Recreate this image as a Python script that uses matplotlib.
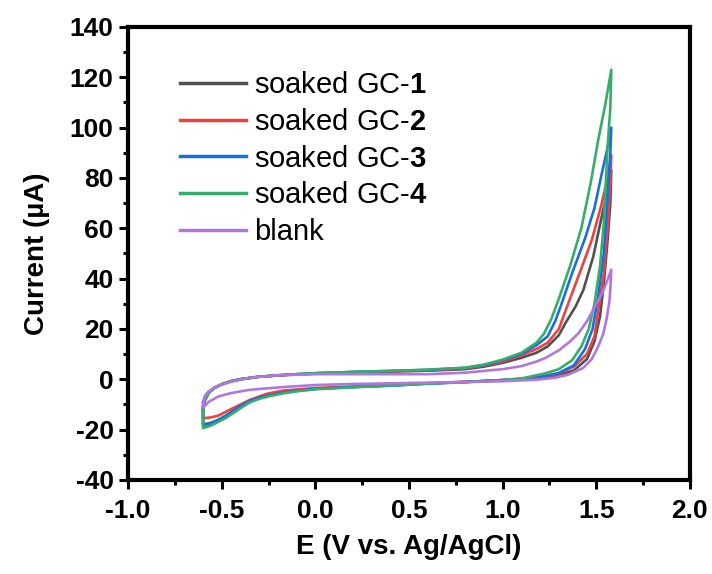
import matplotlib
matplotlib.use("Agg")
import matplotlib.pyplot as plt
import numpy as np
from matplotlib.ticker import MultipleLocator

plt.rcParams['font.family'] = ['Liberation Sans', 'DejaVu Sans']
plt.rcParams['mathtext.fontset'] = 'custom'
plt.rcParams['mathtext.rm'] = 'Liberation Sans'
plt.rcParams['mathtext.bf'] = 'Liberation Sans:bold'
plt.rcParams['axes.unicode_minus'] = False

# CV loops: upper branch from -0.6 V to the vertex, then lower branch back to -0.6 V
gc1_up_E = [-0.60, -0.59, -0.57, -0.54, -0.50, -0.45, -0.40, -0.30, -0.15, 0.00, 0.20, 0.40, 0.60, 0.80, 0.90, 1.00, 1.10, 1.18, 1.24, 1.30, 1.335, 1.39, 1.431, 1.484, 1.53, 1.56, 1.58]
gc1_up_I = [-11.5, -8.0, -5.3, -3.4, -2.0, -0.8, 0.0, 1.0, 1.7, 2.2, 2.6, 3.0, 3.4, 4.0, 5.0, 6.5, 8.5, 10.5, 13.0, 17.5, 22.3, 29.0, 35.5, 48.8, 65.0, 75.0, 83.0]
gc1_dn_E = [1.575, 1.56, 1.54, 1.52, 1.49, 1.45, 1.38, 1.30, 1.20, 1.10, 1.00, 0.80, 0.60, 0.40, 0.20, 0.00, -0.10, -0.17, -0.25, -0.30, -0.35, -0.40, -0.44, -0.48, -0.52, -0.56, -0.60]
gc1_dn_I = [70, 55, 38, 25, 15, 8.0, 3.5, 1.5, 0.5, 0.0, -0.4, -1.1, -1.7, -2.5, -3.1, -3.8, -4.6, -5.3, -6.4, -7.3, -8.6, -10.6, -12.6, -14.6, -16.2, -17.4, -18.0]

gc2_up_E = [-0.60, -0.59, -0.57, -0.54, -0.50, -0.45, -0.40, -0.30, -0.15, 0.00, 0.20, 0.40, 0.60, 0.80, 0.90, 1.00, 1.10, 1.18, 1.24, 1.30, 1.344, 1.42, 1.476, 1.525, 1.56, 1.58]
gc2_up_I = [-10.5, -7.5, -5.2, -3.4, -2.0, -0.8, 0.0, 1.0, 1.8, 2.3, 2.8, 3.2, 3.6, 4.3, 5.4, 7.0, 9.5, 12.0, 14.5, 20.0, 28.9, 44.0, 55.4, 68.6, 80.0, 89.0]
gc2_dn_E = [1.575, 1.56, 1.54, 1.51, 1.49, 1.45, 1.38, 1.30, 1.20, 1.10, 1.00, 0.80, 0.60, 0.40, 0.20, 0.00, -0.17, -0.26, -0.35, -0.44, -0.52, -0.56, -0.60]
gc2_dn_I = [78, 60, 42, 27, 17, 10, 5.0, 2.2, 0.8, 0.1, -0.4, -1.0, -1.6, -2.3, -2.9, -3.5, -4.5, -5.8, -8.2, -11.5, -14.5, -15.2, -15.5]

gc3_up_E = [-0.60, -0.59, -0.57, -0.54, -0.50, -0.45, -0.40, -0.30, -0.15, 0.00, 0.20, 0.40, 0.60, 0.80, 0.90, 1.00, 1.10, 1.18, 1.24, 1.28, 1.31, 1.37, 1.44, 1.49, 1.53, 1.56, 1.58]
gc3_up_I = [-12.0, -8.3, -5.4, -3.5, -2.0, -0.8, 0.0, 1.0, 1.8, 2.4, 2.9, 3.3, 3.7, 4.5, 5.6, 7.5, 10.0, 13.5, 17.0, 23.0, 29.0, 42.0, 56.0, 68.0, 82.0, 92.0, 100.0]
gc3_dn_E = [1.575, 1.56, 1.54, 1.51, 1.48, 1.44, 1.38, 1.30, 1.22, 1.10, 1.00, 0.80, 0.60, 0.40, 0.20, 0.00, -0.10, -0.17, -0.25, -0.30, -0.35, -0.40, -0.44, -0.48, -0.52, -0.56, -0.60]
gc3_dn_I = [90, 72, 50, 33, 20, 12, 5.5, 2.5, 1.2, 0.2, -0.3, -1.1, -1.7, -2.5, -3.1, -3.8, -4.6, -5.3, -6.4, -7.3, -8.6, -10.6, -12.6, -14.6, -16.2, -17.6, -18.5]

gc4_up_E = [-0.60, -0.59, -0.57, -0.54, -0.50, -0.45, -0.40, -0.30, -0.15, 0.00, 0.20, 0.40, 0.60, 0.80, 0.90, 1.00, 1.10, 1.18, 1.22, 1.26, 1.30, 1.36, 1.42, 1.47, 1.51, 1.55, 1.58]
gc4_up_I = [-12.5, -8.5, -5.5, -3.5, -2.0, -0.8, 0.0, 1.0, 1.8, 2.4, 2.9, 3.3, 3.8, 4.6, 5.8, 7.8, 10.5, 14.5, 18.0, 24.0, 32.0, 45.0, 60.0, 78.0, 95.0, 110.0, 123.0]
gc4_dn_E = [1.575, 1.56, 1.54, 1.52, 1.49, 1.46, 1.42, 1.37, 1.30, 1.22, 1.10, 1.00, 0.80, 0.60, 0.40, 0.20, 0.00, -0.10, -0.17, -0.25, -0.30, -0.35, -0.40, -0.44, -0.48, -0.52, -0.56, -0.60]
gc4_dn_I = [108, 92, 62, 45, 30, 20, 13, 7.5, 4.0, 2.2, 0.3, -0.3, -1.2, -1.8, -2.6, -3.2, -4.0, -4.8, -5.6, -6.8, -7.8, -9.2, -11.5, -13.5, -15.5, -17.0, -18.5, -19.4]

blank_up_E = [-0.60, -0.59, -0.57, -0.54, -0.50, -0.45, -0.35, -0.20, 0.00, 0.30, 0.60, 0.80, 1.00, 1.10, 1.18, 1.23, 1.30, 1.36, 1.405, 1.45, 1.493, 1.53, 1.546, 1.58]
blank_up_I = [-9.0, -6.5, -4.8, -3.3, -2.2, -1.0, 0.6, 1.6, 2.0, 2.0, 2.0, 2.6, 4.0, 5.2, 7.0, 8.5, 11.5, 15.0, 18.3, 23.0, 28.9, 34.0, 36.8, 43.5]
blank_dn_E = [1.575, 1.57, 1.555, 1.537, 1.51, 1.476, 1.43, 1.35, 1.28, 1.18, 1.00, 0.80, 0.50, 0.20, 0.00, -0.17, -0.35, -0.45, -0.52, -0.57, -0.60]
blank_dn_I = [36, 31, 24, 18, 13, 8.0, 4.5, 1.8, 0.6, -0.2, -0.8, -1.1, -1.5, -1.9, -2.3, -3.1, -4.2, -5.5, -6.9, -9.0, -11.4]

labels = ["soaked GC-$\\mathbf{1}$", "soaked GC-$\\mathbf{2}$", "soaked GC-$\\mathbf{3}$",
          "soaked GC-$\\mathbf{4}$", "blank"]
colors = ["#515151", "#F14040", "#1A6FDF", "#37AD6B", "#B177DE"]

curves = [
    (gc1_up_E, gc1_up_I, gc1_dn_E, gc1_dn_I),
    (gc2_up_E, gc2_up_I, gc2_dn_E, gc2_dn_I),
    (gc3_up_E, gc3_up_I, gc3_dn_E, gc3_dn_I),
    (gc4_up_E, gc4_up_I, gc4_dn_E, gc4_dn_I),
    (blank_up_E, blank_up_I, blank_dn_E, blank_dn_I),
]

fig = plt.figure(figsize=(7.12, 5.74), dpi=100)
ax = fig.add_axes([0.180, 0.164, 0.789, 0.789])

for (ue, ui, de, di), lab, col in zip(curves, labels, colors):
    E = np.concatenate([ue, de, ue[:1]])
    I = np.concatenate([ui, di, ui[:1]])
    ax.plot(E, I, color=col, lw=1.9, label=lab, solid_joinstyle="round")

ax.set_xlim(-1.0, 2.0)
ax.set_ylim(-40, 140)
ax.xaxis.set_major_locator(MultipleLocator(0.5))
ax.xaxis.set_minor_locator(MultipleLocator(0.25))
ax.yaxis.set_major_locator(MultipleLocator(20))
ax.yaxis.set_minor_locator(MultipleLocator(10))
ax.xaxis.set_major_formatter(plt.FuncFormatter(lambda v, p: f"{v:.1f}"))

for s in ax.spines.values():
    s.set_linewidth(3.0)
ax.tick_params(which="both", direction="out", top=False, right=False, width=2.2)
ax.tick_params(which="major", length=6.5, labelsize=19)
ax.tick_params(axis="x", which="major", pad=7)
ax.tick_params(axis="y", which="major", pad=4)
ax.tick_params(which="minor", length=3.5)
for t in ax.get_xticklabels() + ax.get_yticklabels():
    t.set_fontweight("bold")

ax.set_xlabel("E (V vs. Ag/AgCl)", fontsize=20, fontweight="bold", labelpad=8)
ax.set_ylabel("Current (µA)", fontsize=20, fontweight="bold", labelpad=14)

leg = ax.legend(loc="upper left", bbox_to_anchor=(0.253, 0.876), bbox_transform=fig.transFigure,
                frameon=False, fontsize=21, handlelength=2.27, handletextpad=0.25,
                labelspacing=0.3, borderpad=0, borderaxespad=0)
for line in leg.get_lines():
    line.set_linewidth(2.5)

fig.savefig("out.png", dpi=100)
